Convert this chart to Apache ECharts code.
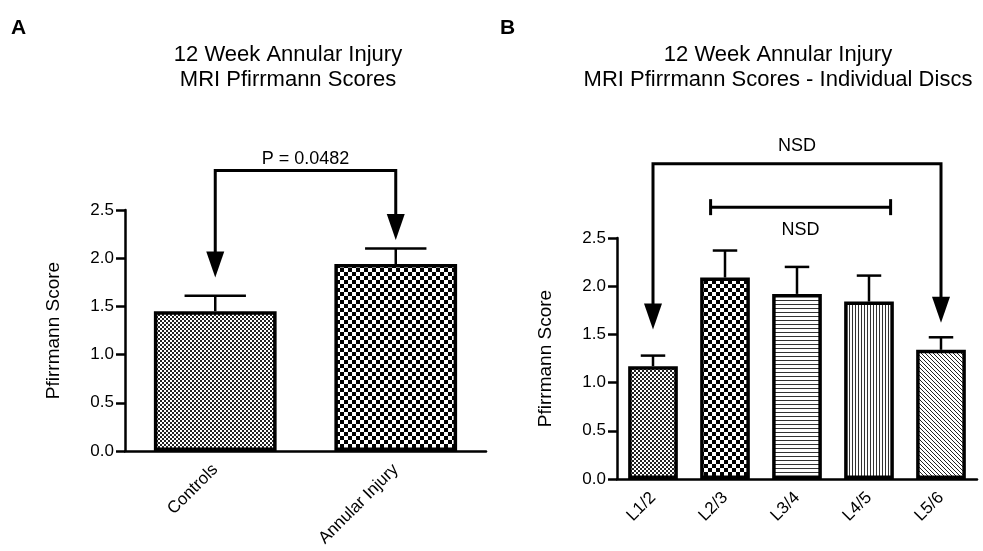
<!DOCTYPE html>
<html>
<head>
<meta charset="utf-8">
<script src="https://cdn.jsdelivr.net/npm/echarts@6/dist/echarts.min.js"></script>
<style>
html, body { margin: 0; background: #fff; }
#main { width: 983px; height: 551px; }
</style>
</head>
<body>
<div id="main"></div>
<script>
// panel A
var ctlCats = ['Controls', 'Annular Injury'];
var ctlMeans = [1.45, 1.94];
var ctlErrs = [0.16, 0.16];
// panel B
var discCats = ['L1/2', 'L2/3', 'L3/4', 'L4/5', 'L5/6'];
var discMeans = [1.17, 2.09, 1.92, 1.84, 1.34];
var discErrs = [0.11, 0.28, 0.28, 0.27, 0.13];
// arrow brackets: [fromIndex, toIndex, level, tipFrom, tipTo, labelLevel]
var ctlArrows = [0, 1, 2.91, 1.80, 2.19, 3.03];
var discArrows = [0, 4, 3.27, 1.55, 1.62, 3.45];
// capped bar: [fromPos, toPos, level, labelLevel]
var discSpan = [0.8, 3.3, 2.82, 2.58];
var ctlArrowText = 'P = 0.0482';
var discArrowText = 'NSD';
var discSpanText = 'NSD';

var FONT = '"Liberation Sans", Arial, sans-serif';

function pattern(w, h, draw) {
    var c = document.createElement('canvas');
    c.width = w;
    c.height = h;
    var g = c.getContext('2d');
    g.fillStyle = '#fff';
    g.fillRect(0, 0, w, h);
    g.fillStyle = '#000';
    draw(g);
    return {image: c, repeat: 'repeat'};
}
var fineChecker = pattern(4, 4, function (g) {
    g.fillStyle = '#222';
    g.fillRect(0, 0, 2, 2);
    g.fillRect(2, 2, 2, 2);
});
var coarseChecker = pattern(8, 8, function (g) {
    g.fillRect(0, 0, 4, 4);
    g.fillRect(4, 4, 4, 4);
});
var hLines = pattern(2, 4, function (g) {
    g.fillStyle = '#333';
    g.fillRect(0, 0, 2, 1);
});
var vLines = pattern(3, 2, function (g) {
    g.fillStyle = '#333';
    g.fillRect(0, 0, 1, 2);
});
var diagLines = pattern(4, 4, function (g) {
    g.fillStyle = '#222';
    for (var i = 0; i < 4; i++) g.fillRect(i, i, 1, 1);
});
var ctlFills = [fineChecker, coarseChecker];
var discFills = [fineChecker, coarseChecker, hLines, vLines, diagLines];

function barData(vals, fills) {
    return vals.map(function (v, i) {
        return {value: v, itemStyle: {color: fills[i]}};
    });
}
function errData(vals, errs) {
    return vals.map(function (v, i) { return [i, v, errs[i]]; });
}

function renderErr(params, api) {
    var i = api.value(0), m = api.value(1), e = api.value(2);
    var base = api.coord([i, m]);
    var top = api.coord([i, m + e]);
    var half = api.size([1, 0])[0] * 0.68 * 0.25;
    var st = {stroke: '#000', lineWidth: 2.5};
    return {
        type: 'group',
        children: [
            {type: 'line', shape: {x1: base[0], y1: base[1], x2: top[0], y2: top[1]}, style: st},
            {type: 'line', shape: {x1: top[0] - half, y1: top[1], x2: top[0] + half, y2: top[1]}, style: st}
        ]
    };
}

function arrowRenderer(text) {
    return function (params, api) {
        var a = api.coord([api.value(0), api.value(3)]);
        var b = api.coord([api.value(1), api.value(4)]);
        var lvl = api.coord([api.value(0), api.value(2)])[1];
        var lab = api.coord([api.value(0), api.value(5)])[1];
        var hh = 26, hw = 9;
        var st = {stroke: '#000', lineWidth: 3, fill: null};
        function head(p) {
            return {type: 'polygon', shape: {points: [[p[0], p[1]], [p[0] - hw, p[1] - hh], [p[0] + hw, p[1] - hh]]},
                style: {fill: '#000'}};
        }
        return {
            type: 'group',
            children: [
                {type: 'polyline', shape: {points: [[a[0], a[1] - hh + 2], [a[0], lvl], [b[0], lvl], [b[0], b[1] - hh + 2]]}, style: st},
                head(a),
                head(b),
                {type: 'text', x: (a[0] + b[0]) / 2, y: lab,
                    style: {text: text, textAlign: 'center', textVerticalAlign: 'middle', fontSize: 18, fontFamily: FONT, fill: '#000'}}
            ]
        };
    };
}

function renderSpan(params, api) {
    var band = api.size([1, 0])[0];
    var x0 = api.coord([0, 0])[0];
    var lvl = api.coord([0, api.value(2)])[1];
    var lab = api.coord([0, api.value(3)])[1];
    var xa = x0 + discSpan[0] * band, xb = x0 + discSpan[1] * band;
    var st = {stroke: '#000', lineWidth: 3};
    return {
        type: 'group',
        children: [
            {type: 'line', shape: {x1: xa, y1: lvl, x2: xb, y2: lvl}, style: st},
            {type: 'line', shape: {x1: xa, y1: lvl - 8, x2: xa, y2: lvl + 8}, style: st},
            {type: 'line', shape: {x1: xb, y1: lvl - 8, x2: xb, y2: lvl + 8}, style: st},
            {type: 'text', x: (xa + xb) / 2, y: lab,
                style: {text: discSpanText, textAlign: 'center', textVerticalAlign: 'middle', fontSize: 18, fontFamily: FONT, fill: '#000'}}
        ]
    };
}

function xAxisOf(cats, gi) {
    return {
        type: 'category',
        gridIndex: gi,
        data: cats,
        axisLine: {lineStyle: {color: '#000', width: 2.5}},
        axisTick: {alignWithLabel: true, length: 9, lineStyle: {color: '#000', width: 2.5}},
        axisLabel: {rotate: 45, fontSize: 17, color: '#000', fontFamily: FONT, margin: 16, interval: 0}
    };
}
function yAxisOf(gi) {
    return {
        type: 'value',
        gridIndex: gi,
        min: 0,
        max: 2.5,
        interval: 0.5,
        name: 'Pfirrmann Score',
        nameLocation: 'middle',
        nameGap: 62,
        nameTextStyle: {fontSize: 19, color: '#000', fontFamily: FONT},
        splitLine: {show: false},
        axisLine: {show: true, lineStyle: {color: '#000', width: 2.5}},
        axisTick: {show: true, length: 9, lineStyle: {color: '#000', width: 2.5}},
        axisLabel: {fontSize: 17, color: '#000', fontFamily: FONT, margin: 11,
            formatter: function (v) { return v.toFixed(1); }}
    };
}

var chart = echarts.init(document.getElementById('main'));

var heading = {fontSize: 22, fontFamily: FONT, fill: '#000', textAlign: 'center', textVerticalAlign: 'top', lineHeight: 25};

chart.setOption({
    backgroundColor: '#fff',
    animation: false,
    textStyle: {fontFamily: FONT},
    graphic: [
        {type: 'text', x: 11, y: 18, style: {text: 'A', fontSize: 21, fontWeight: 'bold', fontFamily: FONT, fill: '#000'}},
        {type: 'text', x: 500, y: 18, style: {text: 'B', fontSize: 21, fontWeight: 'bold', fontFamily: FONT, fill: '#000'}},
        {type: 'text', x: 288, y: 42, style: Object.assign({text: '12 Week Annular Injury\nMRI Pfirrmann Scores'}, heading)},
        {type: 'text', x: 778, y: 42, style: Object.assign({text: '12 Week Annular Injury\nMRI Pfirrmann Scores - Individual Discs'}, heading)}
    ],
    grid: [
        {left: 125, right: 497, top: 210, bottom: 100},
        {left: 617, right: 6, top: 238, bottom: 72}
    ],
    xAxis: [xAxisOf(ctlCats, 0), xAxisOf(discCats, 1)],
    yAxis: [yAxisOf(0), yAxisOf(1)],
    series: [
        {
            type: 'bar',
            xAxisIndex: 0,
            yAxisIndex: 0,
            barWidth: '68%',
            itemStyle: {borderColor: '#000', borderWidth: 3.5},
            data: barData(ctlMeans, ctlFills)
        },
        {
            type: 'bar',
            xAxisIndex: 1,
            yAxisIndex: 1,
            barWidth: '69%',
            itemStyle: {borderColor: '#000', borderWidth: 3.5},
            data: barData(discMeans, discFills)
        },
        {
            type: 'custom', xAxisIndex: 0, yAxisIndex: 0, z: 1,
            renderItem: renderErr, data: errData(ctlMeans, ctlErrs)
        },
        {
            type: 'custom', xAxisIndex: 1, yAxisIndex: 1, z: 1,
            renderItem: renderErr, data: errData(discMeans, discErrs)
        },
        {
            type: 'custom', xAxisIndex: 0, yAxisIndex: 0, clip: false,
            encode: {x: [0, 1], y: [3, 4]},
            renderItem: arrowRenderer(ctlArrowText), data: [ctlArrows]
        },
        {
            type: 'custom', xAxisIndex: 1, yAxisIndex: 1, clip: false,
            encode: {x: [0, 1], y: [3, 4]},
            renderItem: arrowRenderer(discArrowText), data: [discArrows]
        },
        {
            type: 'custom', xAxisIndex: 1, yAxisIndex: 1, clip: false,
            encode: {x: -1, y: [2]},
            renderItem: renderSpan, data: [[discSpan[0], discSpan[1], discSpan[2], discSpan[3]]]
        }
    ]
});
</script>
</body>
</html>
